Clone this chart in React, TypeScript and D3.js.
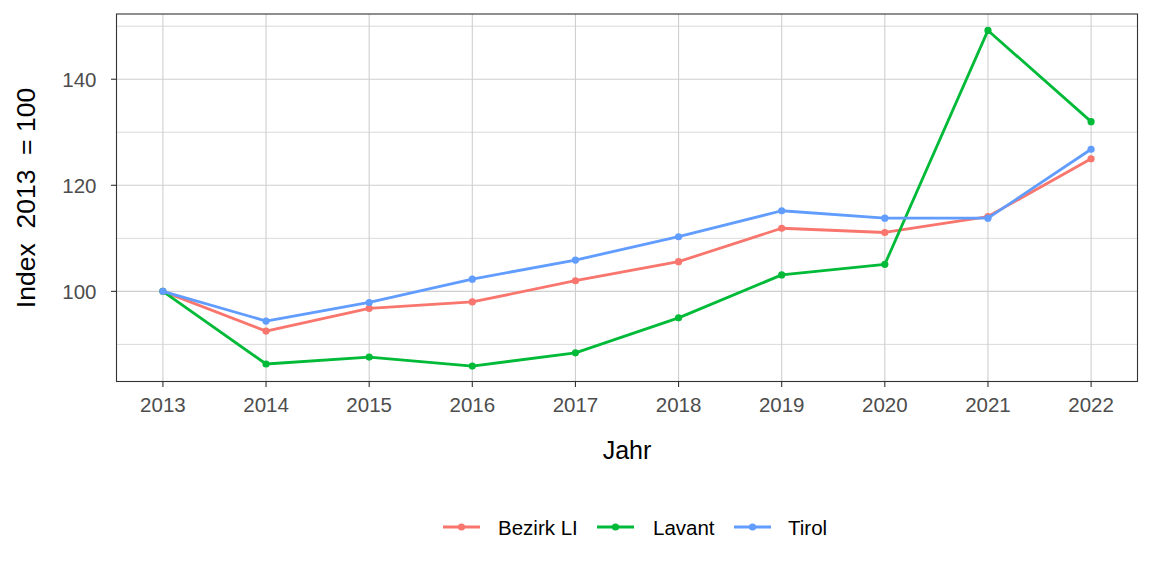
import React from "react";
import * as d3 from "d3";

const years = [2013, 2014, 2015, 2016, 2017, 2018, 2019, 2020, 2021, 2022];
const bezirkLI = [100, 92.5, 96.8, 98.0, 102.0, 105.6, 111.9, 111.1, 114.1, 125.0];
const lavant = [100, 86.3, 87.6, 85.9, 88.4, 95.0, 103.1, 105.1, 149.2, 132.0];
const tirol = [100, 94.4, 97.9, 102.3, 105.9, 110.3, 115.2, 113.8, 113.8, 126.8];
const seriesNames = ["Bezirk LI", "Lavant", "Tirol"];
const seriesColors = ["#F8766D", "#00BA38", "#619CFF"];
const yTicks = [100, 120, 140];
const yMinor = [90, 110, 130, 150];

export default function App() {
  const W = 1152, H = 576;
  const left = 116.5, right = 1137.5, top = 14, bottom = 381.5;
  const x = d3.scaleLinear().domain([2013 - 0.45, 2022 + 0.45]).range([left, right]);
  const y = d3.scaleLinear().domain([83.0, 152.3]).range([bottom, top]);
  const all = [bezirkLI, lavant, tirol];
  const line = d3.line<number>().x((_, i) => x(years[i])).y((d) => y(d));
  const font = "Liberation Sans, Arial, sans-serif";
  const legendItems = [
    { keyX: 443, textX: 498 },
    { keyX: 597, textX: 653 },
    { keyX: 734, textX: 788 },
  ];
  return (
    <svg width={W} height={H} style={{ position: "absolute", left: 0, top: 0 }} fontFamily={font}>
      <rect x={0} y={0} width={W} height={H} fill="#fff" />
      {yMinor.map((v) => (
        <line key={"m" + v} x1={left} x2={right} y1={y(v)} y2={y(v)} stroke="#D6D6D6" strokeWidth={0.9} />
      ))}
      {yTicks.map((v) => (
        <line key={"g" + v} x1={left} x2={right} y1={y(v)} y2={y(v)} stroke="#CFCFCF" strokeWidth={1.1} />
      ))}
      {years.map((v) => (
        <line key={"gx" + v} x1={x(v)} x2={x(v)} y1={top} y2={bottom} stroke="#CFCFCF" strokeWidth={1.1} />
      ))}
      {all.map((s, k) => (
        <g key={k}>
          <path d={line(s) || ""} fill="none" stroke={seriesColors[k]} strokeWidth={2.8} strokeLinejoin="round" />
          {s.map((v, i) => (
            <circle key={i} cx={x(years[i])} cy={y(v)} r={3.6} fill={seriesColors[k]} />
          ))}
        </g>
      ))}
      <rect x={left} y={top} width={right - left} height={bottom - top} fill="none" stroke="#333" strokeWidth={1.1} />
      {yTicks.map((v) => (
        <g key={"t" + v}>
          <line x1={left - 5.5} x2={left} y1={y(v)} y2={y(v)} stroke="#333" strokeWidth={1.1} />
          <text x={left - 20} y={y(v)} dy="0.36em" textAnchor="end" fontSize={20.5} fill="#4D4D4D">{v}</text>
        </g>
      ))}
      {years.map((v) => (
        <g key={"tx" + v}>
          <line x1={x(v)} x2={x(v)} y1={bottom} y2={bottom + 5.5} stroke="#333" strokeWidth={1.1} />
          <text x={x(v)} y={411.5} textAnchor="middle" fontSize={20.5} fill="#4D4D4D">{v}</text>
        </g>
      ))}
      <text x={(left + right) / 2} y={459} textAnchor="middle" fontSize={25} fill="#000">Jahr</text>
      <text transform={`translate(35,198) rotate(-90)`} textAnchor="middle" fontSize={26.5} fill="#000" style={{ whiteSpace: "pre" }}>
        {"Index  2013  = 100"}
      </text>
      {seriesNames.map((n, k) => (
        <g key={n}>
          <line x1={legendItems[k].keyX} x2={legendItems[k].keyX + 37} y1={527} y2={527} stroke={seriesColors[k]} strokeWidth={2.8} />
          <circle cx={legendItems[k].keyX + 18.5} cy={527} r={3.6} fill={seriesColors[k]} />
          <text x={legendItems[k].textX} y={535} fontSize={20.5} fill="#000">{n}</text>
        </g>
      ))}
    </svg>
  );
}
